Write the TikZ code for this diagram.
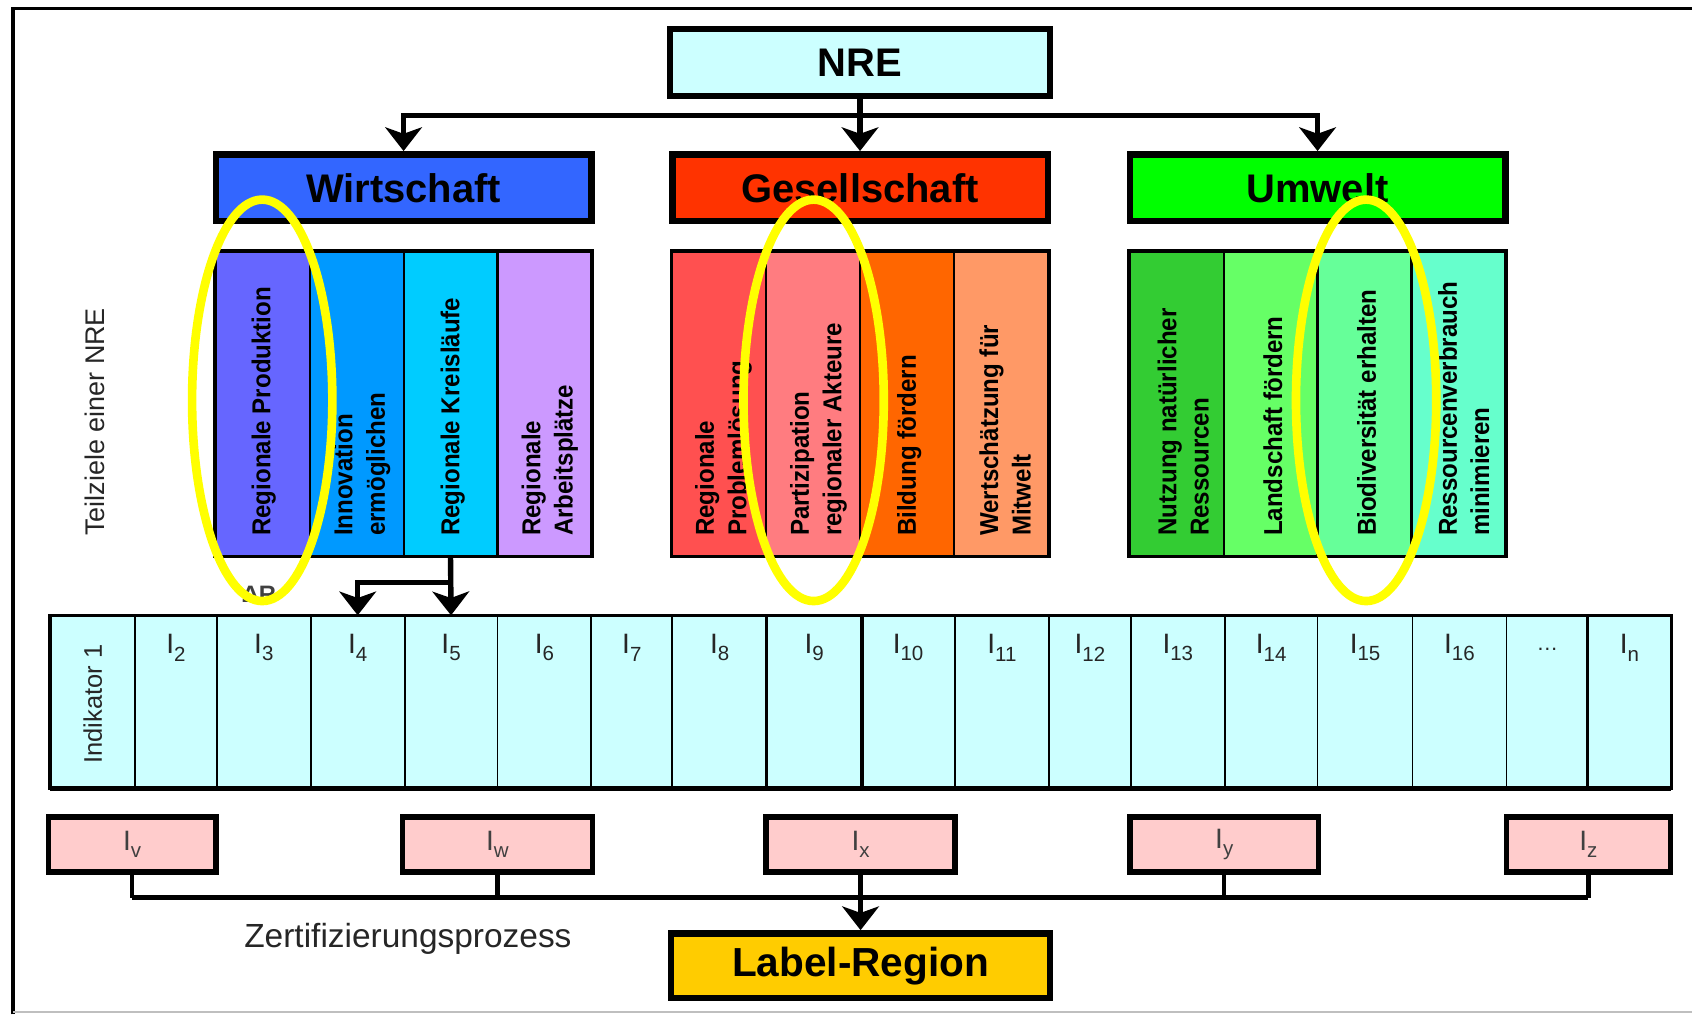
\documentclass[tikz,border=0pt]{standalone}
\usepackage{fontspec}
\setmainfont{Liberation Sans}
\newfontfamily\condfont[FakeStretch=0.93]{Liberation Sans}
\usetikzlibrary{arrows.meta}
\definecolor{cyanl}{HTML}{CCFFFF}
\definecolor{wirt}{HTML}{3366FF}
\definecolor{wa}{HTML}{6666FF}
\definecolor{wb}{HTML}{0099FF}
\definecolor{wc}{HTML}{00CCFF}
\definecolor{wd}{HTML}{CC99FF}
\definecolor{ges}{HTML}{FF3300}
\definecolor{ga}{HTML}{FF5050}
\definecolor{gb}{HTML}{FF7C80}
\definecolor{gc}{HTML}{FF6600}
\definecolor{gd}{HTML}{FF9966}
\definecolor{umw}{HTML}{00FF00}
\definecolor{ua}{HTML}{33CC33}
\definecolor{ub}{HTML}{66FF66}
\definecolor{uc}{HTML}{66FF99}
\definecolor{ud}{HTML}{66FFCC}
\definecolor{pinkb}{HTML}{FFCCCC}
\definecolor{labc}{HTML}{FFCC00}
\definecolor{yel}{HTML}{FFFF00}
\newcommand\Isub[1]{I\raisebox{-0.5ex}{\fontsize{9.5}{10}\selectfont #1}}
\begin{document}
\begin{tikzpicture}[x=0.5pt,y=-0.5pt,
 hdr/.style={draw=black, line width=3pt, minimum width=174pt, minimum height=31pt, inner sep=0pt, font=\fontsize{18.5}{22}\selectfont\bfseries},
 col/.style={draw=black, line width=1pt, minimum width=43.5pt, minimum height=141pt, inner sep=0pt},
 coltxt/.style={rotate=90, anchor=west, inner sep=0pt, align=left, font=\condfont\fontsize{12}{15}\selectfont\bfseries},
 indcol/.style={draw=black, line width=0.8pt, fill=cyanl, minimum height=79.5pt, inner sep=0pt},
 ilab/.style={inner sep=0pt, text=black!85, font=\fontsize{13}{15}\selectfont},
 ibox/.style={draw=black, line width=2.5pt, fill=pinkb, minimum height=25.5pt, inner sep=0pt, font=\fontsize{13}{15}\selectfont, text=black!75},
 conn/.style={line width=2.5pt},
 arr/.style={line width=2.5pt, -{Stealth[length=11pt,width=17pt,inset=3pt]}},
 ring/.style={draw=yel, line width=4pt}
]
\useasboundingbox (0,0) rectangle (1568,940);
\fill[white] (0,0) rectangle (1568,940);
% frame
\draw[line width=1.5pt] (12,940) -- (12,8) -- (1568,8);
\draw[black!25, line width=0.8pt] (12,938) -- (1568,938);

% top
\node[hdr, fill=cyanl, minimum width=176pt] (nre) at (797,58) {NRE};
\node[hdr, fill=wirt] (wirtschaft) at (374,174) {Wirtschaft};
\node[hdr, fill=ges] (gesellschaft) at (797,174) {Gesellschaft};
\node[hdr, fill=umw] (umwelt) at (1221,174) {Umwelt};
\coordinate (hub) at (797,107);
\draw[conn] (nre.south) -- (hub);
\draw[arr] (hub) -| (wirtschaft.north);
\draw[arr] (hub) -- (gesellschaft.north);
\draw[arr] (hub) -| (umwelt.north);

% side label
\node[rotate=90, anchor=west, inner sep=0pt, text=black!85, font=\fontsize{12.5}{15}\selectfont] (teilziele) at (88,497) {Teilziele einer NRE};

% Wirtschaft columns
\node[col, fill=wa] (w1) at (243.5,374) {};
\node[col, fill=wb] (w2) at (330.5,374) {};
\node[col, fill=wc] (w3) at (417.5,374) {};
\node[col, fill=wd] (w4) at (504.5,374) {};
\draw[line width=1.5pt] (w1.north west) rectangle (w4.south east);
\node[coltxt] (w1t) at (244.5,497) {Regionale Produktion};
\node[coltxt] (w2t) at (335.5,497) {Innovation\\ermöglichen};
\node[coltxt] (w3t) at (419.5,497) {Regionale Kreisläufe};
\node[coltxt] (w4t) at (509.5,497) {Regionale\\Arbeitsplätze};

% Gesellschaft columns
\node[col, fill=ga] (g1) at (666.5,374) {};
\node[col, fill=gb] (g2) at (753.5,374) {};
\node[col, fill=gc] (g3) at (840.5,374) {};
\node[col, fill=gd] (g4) at (927.5,374) {};
\draw[line width=1.5pt] (g1.north west) rectangle (g4.south east);
\node[coltxt] (g1t) at (670.5,497) {Regionale\\Problemlösung};
\node[coltxt] (g2t) at (758.5,497) {Partizipation\\regionaler Akteure};
\node[coltxt] (g3t) at (842.5,497) {Bildung fördern};
\node[coltxt] (g4t) at (931.5,497) {Wertschätzung für\\Mitwelt};

% Umwelt columns
\node[col, fill=ua] (u1) at (1090.5,374) {};
\node[col, fill=ub] (u2) at (1177.5,374) {};
\node[col, fill=uc] (u3) at (1264.5,374) {};
\node[col, fill=ud] (u4) at (1351.5,374) {};
\draw[line width=1.5pt] (u1.north west) rectangle (u4.south east);
\node[coltxt] (u1t) at (1096.5,497) {Nutzung natürlicher\\Ressourcen};
\node[coltxt] (u2t) at (1179.5,497) {Landschaft fördern};
\node[coltxt] (u3t) at (1266.5,497) {Biodiversität erhalten};
\node[coltxt] (u4t) at (1356.5,497) {Ressourcenverbrauch\\minimieren};

% indicator row
\foreach \a/\b/\nm in {47/125/ind1, 125/201/i2, 201/288/i3, 288/375/i4, 375/461/i5, 461/548/i6, 548/623/i7, 623/711/i8, 711/798/i9, 798/885/i10, 885/972/i11, 972/1048/i12, 1048/1135/i13, 1135/1221/i14, 1221/1309/i15, 1309/1396/i16, 1396/1472/idots, 1472/1548/inn}{
  \pgfmathsetmacro\w{(\b-\a)*0.5}
  \pgfmathsetmacro\c{(\a+\b)/2}
  \node[indcol, minimum width=\w pt] (\nm) at (\c,650.5) {};
}
\draw[line width=1.5pt] (ind1.north west) rectangle (inn.south east);
\draw[line width=2.5pt] (ind1.south west) -- (inn.south east);
\draw[line width=1.5pt] (i9.north west) -- (i9.south west);
\draw[line width=1.5pt] (i9.north east) -- (i9.south east);
\draw[line width=1.5pt] (inn.north west) -- (inn.south west);
\node[rotate=90, anchor=west, inner sep=0pt, text=black!85, font=\fontsize{11.8}{14}\selectfont] (ind1t) at (86,708) {Indikator 1};
\foreach \nm/\t in {i2/2, i3/3, i4/4, i5/5, i6/6, i7/7, i8/8, i9/9, i10/10, i11/11, i12/12, i13/13, i14/14, i15/15, i16/16, inn/n}{
  \node[ilab] (\nm lab) at ([yshift=-15pt]\nm.north) {\Isub{\t}};
}
\node[ilab] (idotslab) at ([yshift=-16pt]idots.north) {\fontsize{10}{10}\selectfont\ldots};

% arrows from Regionale Kreislaeufe
\coordinate (br) at (417.5,540);
\draw[arr] (w3.south) -- (i5.north);
\draw[arr] (br) -| (i4.north);

% partly hidden mark
\node[inner sep=0pt, text=black!75, font=\fontsize{11}{13}\selectfont\bfseries] (dr) at (240,551) {ΔR};

% bottom boxes
\node[ibox, minimum width=77.5pt] (iv) at (122.5,782.5) {\Isub{v}};
\node[ibox, minimum width=88pt] (iw) at (461,782.5) {\Isub{w}};
\node[ibox, minimum width=87.5pt] (ix) at (797.5,782.5) {\Isub{x}};
\node[ibox, minimum width=87.5pt] (iy) at (1134.5,782.5) {\Isub{y}};
\node[ibox, minimum width=76pt] (iz) at (1472,782.5) {\Isub{z}};
\node[draw=black, line width=3pt, fill=labc, minimum width=175.5pt, minimum height=30pt, inner sep=0pt, font=\fontsize{18.8}{22}\selectfont\bfseries] (label) at (797.5,895) {Label-Region};
\coordinate (busl) at (122.5,832);
\coordinate (busr) at (1472,832);
\draw[line width=2pt] (iv.south) -- (busl);
\draw[conn] (busl) -- (busr);
\draw[line width=2pt] (iz.south) -- (busr);
\draw[line width=2pt] (iw.south) -- (iw.south |- busl);
\draw[line width=2pt] (iy.south) -- (iy.south |- busl);
\draw[arr] (ix.south) -- (label.north);
\node[inner sep=0pt, text=black!85, font=\fontsize{15.5}{18}\selectfont] (zert) at (378,870) {Zertifizierungsprozess};

% yellow highlight rings
\draw[ring] (243,371) ellipse [x radius=32.5pt, y radius=93pt];
\draw[ring] (754,371) ellipse [x radius=32.5pt, y radius=93pt];
\draw[ring] (1266,371) ellipse [x radius=32.5pt, y radius=93pt];
\end{tikzpicture}
\end{document}
